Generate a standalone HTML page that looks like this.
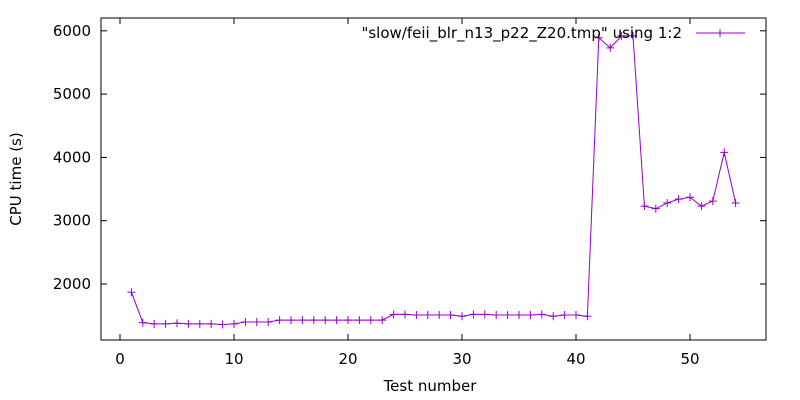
<!DOCTYPE html>
<html><head><meta charset="utf-8"><style>body{margin:0;background:#fff}svg{display:block;font-family:"DejaVu Sans",sans-serif}</style></head>
<body>
<svg id="chart" width="800" height="400"></svg>
<script>
const xs=[1,2,3,4,5,6,7,8,9,10,11,12,13,14,15,16,17,18,19,20,21,22,23,24,25,26,27,28,29,30,31,32,33,34,35,36,37,38,39,40,41,42,43,44,45,46,47,48,49,50,51,52,53,54];
const ys=[1870,1390,1370,1370,1380,1370,1370,1370,1360,1370,1400,1400,1400,1430,1430,1430,1430,1430,1430,1430,1430,1430,1430,1520,1520,1510,1510,1510,1510,1490,1520,1520,1510,1510,1510,1510,1520,1490,1510,1510,1490,5890,5730,5920,5920,3230,3190,3280,3340,3370,3230,3310,4080,3280];
const xTicks=[0,10,20,30,40,50];
const yTicks=[2000,3000,4000,5000,6000];
const L=101,R=766,T=18,B=340;
const X=v=>120+v*11.4;
const Y=v=>284-(v-2000)*0.0633;
const svg=document.getElementById('chart');const NS='http://www.w3.org/2000/svg';
function mk(t,a,p){const e=document.createElementNS(NS,t);for(const k in a)e.setAttribute(k,a[k]);(p||svg).appendChild(e);return e;}
const frame=mk('rect',{x:L,y:T,width:R-L,height:B-T,fill:'none',stroke:'#000','stroke-width':1});


xTicks.forEach(v=>{const x=X(v);
mk('line',{x1:x,y1:B,x2:x,y2:B-6,stroke:'#000'});mk('line',{x1:x,y1:T,x2:x,y2:T+6,stroke:'#000'});
const t=mk('text',{x:x,y:B+24,'text-anchor':'middle','font-size':15});t.textContent=v;

});
yTicks.forEach(v=>{const y=Y(v);
mk('line',{x1:L,y1:y,x2:L+6,y2:y,stroke:'#000'});mk('line',{x1:R,y1:y,x2:R-6,y2:y,stroke:'#000'});
const t=mk('text',{x:L-10,y:y+5,'text-anchor':'end','font-size':15});t.textContent=v;

});
const xt=mk('text',{x:430,y:391,'text-anchor':'middle','font-size':15});xt.textContent='Test number';


const yt=mk('text',{x:21,y:179,'text-anchor':'middle','font-size':15,transform:'rotate(-90 21 179)'});yt.textContent='CPU time (s)';


const c='#9400d3';
const line=mk('polyline',{points:xs.map((x,i)=>X(x)+','+Y(ys[i])).join(' '),fill:'none',stroke:c,'stroke-width':1});


xs.forEach((x,i)=>{const px=X(x),py=Y(ys[i]);
const p=mk('path',{d:`M${px-4},${py}h8M${px},${py-4}v8`,stroke:c,'stroke-width':1});

});
const lt=mk('text',{x:682,y:38,'text-anchor':'end','font-size':15});lt.textContent='"slow/feii_blr_n13_p22_Z20.tmp" using 1:2';


const ll=mk('path',{d:'M696,33h49M720,29v8',stroke:c,'stroke-width':1});


</script>
</body></html>
